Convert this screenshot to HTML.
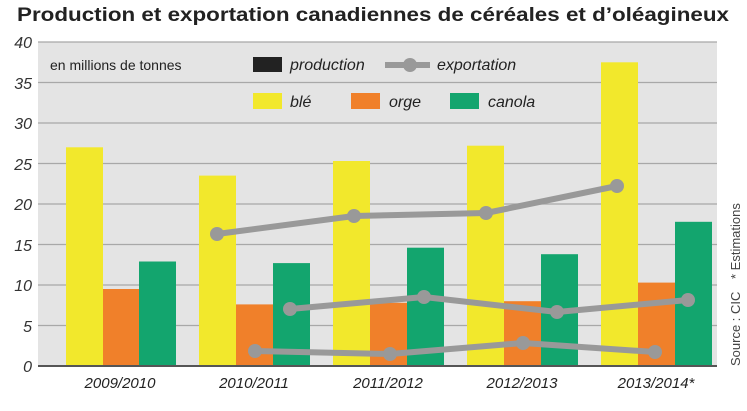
<!DOCTYPE html>
<html><head><meta charset="utf-8"><style>
body{margin:0;background:#fff}
svg text{font-family:"Liberation Sans",sans-serif}
</style></head><body>
<svg width="747" height="406" viewBox="0 0 747 406" xmlns="http://www.w3.org/2000/svg">
<rect width="747" height="406" fill="#fff"/>
<text x="373" y="21" text-anchor="middle" font-size="19" font-weight="bold" fill="#222" textLength="712" lengthAdjust="spacingAndGlyphs">Production et exportation canadiennes de céréales et d’oléagineux</text>
<rect x="38" y="42" width="679" height="324" fill="#e4e4e4"/>
<g stroke="#a8a8a8" stroke-width="1.2">
<line x1="38" y1="42" x2="717" y2="42"/><line x1="38" y1="82.5" x2="717" y2="82.5"/><line x1="38" y1="123" x2="717" y2="123"/><line x1="38" y1="163.5" x2="717" y2="163.5"/><line x1="38" y1="204" x2="717" y2="204"/><line x1="38" y1="244.5" x2="717" y2="244.5"/><line x1="38" y1="285" x2="717" y2="285"/><line x1="38" y1="325.5" x2="717" y2="325.5"/>
</g>
<g font-size="16" font-style="italic" fill="#333" text-anchor="end">
<text x="32" y="48">40</text><text x="32" y="89">35</text><text x="32" y="129">30</text><text x="32" y="170">25</text><text x="32" y="210">20</text><text x="32" y="251">15</text><text x="32" y="291">10</text><text x="32" y="332">5</text><text x="32" y="372">0</text>
</g>
<g>
<rect x="66" y="147.3" width="37" height="218.7" fill="#f2e82c"/><rect x="103" y="289" width="36" height="77" fill="#f0802a"/><rect x="139" y="261.5" width="37" height="104.5" fill="#13a56e"/>
<rect x="199" y="175.6" width="37" height="190.4" fill="#f2e82c"/><rect x="236" y="304.4" width="37" height="61.6" fill="#f0802a"/><rect x="273" y="263.1" width="37" height="102.9" fill="#13a56e"/>
<rect x="333" y="161" width="37" height="205" fill="#f2e82c"/><rect x="370" y="302.8" width="37" height="63.2" fill="#f0802a"/><rect x="407" y="247.7" width="37" height="118.3" fill="#13a56e"/>
<rect x="467" y="145.7" width="37" height="220.3" fill="#f2e82c"/><rect x="504" y="301.2" width="37" height="64.8" fill="#f0802a"/><rect x="541" y="254.2" width="37" height="111.8" fill="#13a56e"/>
<rect x="601" y="62.3" width="37" height="303.7" fill="#f2e82c"/><rect x="638" y="282.6" width="37" height="83.4" fill="#f0802a"/><rect x="675" y="221.8" width="37" height="144.2" fill="#13a56e"/>
</g>
<line x1="38" y1="366" x2="717" y2="366" stroke="#555" stroke-width="2"/>
<g stroke="#999" stroke-width="6" fill="none" stroke-linejoin="round">
<polyline points="217,234 354,216 486,213 617,186"/>
<polyline points="290,309 424,297 557,312 688,300"/>
<polyline points="255,351 390,354 523,343 655,352"/>
</g>
<g fill="#999">
<circle cx="217" cy="234" r="7"/><circle cx="354" cy="216" r="7"/><circle cx="486" cy="213" r="7"/><circle cx="617" cy="186" r="7"/>
<circle cx="290" cy="309" r="7"/><circle cx="424" cy="297" r="7"/><circle cx="557" cy="312" r="7"/><circle cx="688" cy="300" r="7"/>
<circle cx="255" cy="351" r="7"/><circle cx="390" cy="354" r="7"/><circle cx="523" cy="343" r="7"/><circle cx="655" cy="352" r="7"/>
</g>
<text x="50" y="70" font-size="14" fill="#222">en millions de tonnes</text>
<rect x="253" y="57" width="29" height="15" fill="#222"/>
<text x="290" y="70" font-size="16" font-style="italic" fill="#222">production</text>
<line x1="385" y1="65" x2="430" y2="65" stroke="#999" stroke-width="6"/><circle cx="410" cy="65" r="7" fill="#999"/>
<text x="437" y="70" font-size="16" font-style="italic" fill="#222">exportation</text>
<rect x="253" y="93" width="29" height="16" fill="#f2e82c"/>
<text x="290" y="107" font-size="16" font-style="italic" fill="#222">blé</text>
<rect x="351" y="93" width="29" height="16" fill="#f0802a"/>
<text x="389" y="107" font-size="16" font-style="italic" fill="#222">orge</text>
<rect x="450" y="93" width="29" height="16" fill="#13a56e"/>
<text x="488" y="107" font-size="16" font-style="italic" fill="#222">canola</text>
<g font-size="15" font-style="italic" fill="#222" text-anchor="middle">
<text x="120" y="388">2009/2010</text><text x="254" y="388">2010/2011</text><text x="388" y="388">2011/2012</text><text x="522" y="388">2012/2013</text><text x="656" y="388">2013/2014*</text>
</g>
<text transform="translate(740,366) rotate(-90)" font-size="13" fill="#444">Source : CIC</text>
<text transform="translate(740,279) rotate(-90)" font-size="13" fill="#444">* Estimations</text>
</svg>
</body></html>
